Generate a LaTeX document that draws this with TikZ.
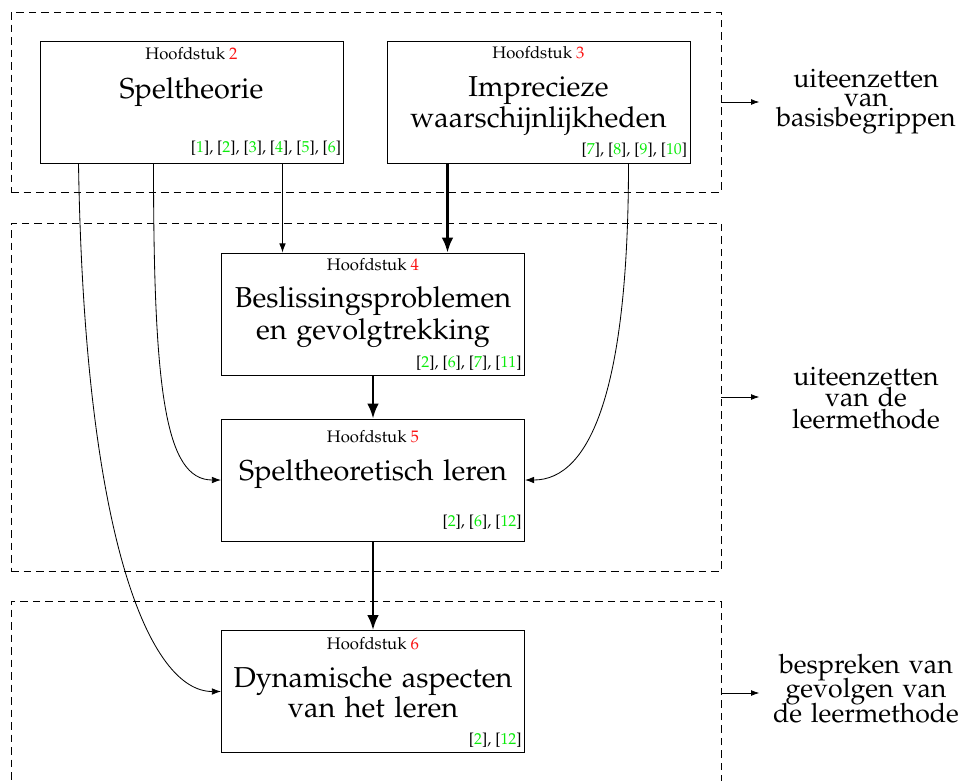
\documentclass[tikz,border=0pt]{standalone}
\usepackage[T1]{fontenc}
\renewcommand{\rmdefault}{ppl}
\usetikzlibrary{arrows.meta,calc}
\definecolor{citegreen}{RGB}{10,235,10}
\definecolor{chapred}{RGB}{250,20,20}
\newcommand{\gref}[1]{[\textcolor{citegreen}{#1}]}
\newcommand{\hfd}[1]{Hoofdstuk \textcolor{chapred}{#1}}
\begin{document}
\begin{tikzpicture}[x=0.6pt,y=-0.6pt,
  box/.style={draw, line width=0.6pt, minimum width=181.8pt, minimum height=73.2pt, inner sep=0pt},
  frame/.style={draw, dash pattern=on 4.5pt off 3pt, line width=0.5pt, minimum width=426pt, inner sep=0pt},
  hd/.style={anchor=base, inner sep=0pt, font=\fontsize{10}{12}\selectfont},
  ttl/.style={anchor=base, inner sep=0pt, text width=175pt, align=center},
  cite/.style={anchor=base east, inner sep=0pt, font=\fontsize{9.5}{11}\selectfont},
  lbl/.style={anchor=base, inner sep=0pt, text width=120pt, align=center},
  thinarr/.style={line width=0.5pt, -{Latex[length=5.5pt,width=4pt]}},
  thickarr/.style={line width=1.4pt, -{Latex[length=9pt,width=7pt]}},
  sidearr/.style={line width=0.5pt, -{Latex[length=5pt,width=3.5pt]}},
]
\useasboundingbox (0,0) rectangle (959,780);

% frames
\node[frame, minimum height=108pt] (F1) at (366,102) {};
\node[frame, minimum height=208.8pt] (F2) at (366,397) {};
\node[frame, minimum height=110.4pt] (F3) at (366,693) {};

% boxes
\node[box] (A) at (191.5,102) {};
\node[box] (B) at (538.5,102) {};
\node[box] (C) at (373,314) {};
\node[box] (D) at (373,480) {};
\node[box] (E) at (373,691.5) {};

% box A
\node[hd] (hA) at ($(A.north)+(0,19)$) {\hfd{2}};
\node[ttl, font={\fontsize{17.28}{19}\selectfont}] (tA) at ($(A.north)+(0,58)$) {Speltheorie};
\node[cite] (cA) at ($(A.north east)+(-2,112)$) {\gref{1}, \gref{2}, \gref{3}, \gref{4}, \gref{5}, \gref{6}};

% box B
\node[hd] (hB) at ($(B.north)+(0,18)$) {\hfd{3}};
\node[ttl, font={\fontsize{17.28}{18.6}\selectfont\lineskiplimit=-20pt}] (tB) at ($(B.north)+(0,56)$) {Imprecieze\\waarschijnlijkheden};
\node[cite] (cB) at ($(B.north east)+(-3,114)$) {\gref{7}, \gref{8}, \gref{9}, \gref{10}};

% box C
\node[hd] (hC) at ($(C.north)+(0,18)$) {\hfd{4}};
\node[ttl, font={\fontsize{17.28}{19.2}\selectfont\lineskiplimit=-20pt}] (tC) at ($(C.north)+(0,55)$) {Beslissingsproblemen\\en gevolgtrekking};
\node[cite] (cC) at ($(C.north east)+(-3,115)$) {\gref{2}, \gref{6}, \gref{7}, \gref{11}};

% box D
\node[hd] (hD) at ($(D.north)+(0,24)$) {\hfd{5}};
\node[ttl, font={\fontsize{17.28}{19}\selectfont}] (tD) at ($(D.north)+(0,62)$) {Speltheoretisch leren};
\node[cite] (cD) at ($(D.north east)+(-3,108)$) {\gref{2}, \gref{6}, \gref{12}};

% box E
\node[hd] (hE) at ($(E.north)+(0,19)$) {\hfd{6}};
\node[ttl, font={\fontsize{17.28}{18}\selectfont\lineskiplimit=-20pt}] (tE) at ($(E.north)+(0,57)$) {Dynamische aspecten\\van het leren};
\node[cite] (cE) at ($(E.north east)+(-3,114)$) {\gref{2}, \gref{12}};

% right labels
\node[lbl, font={\fontsize{16}{11.7}\selectfont\lineskiplimit=-20pt}] (L1) at (866,87) {uiteenzetten\\van\\basisbegrippen};
\node[lbl, font={\fontsize{16}{12.9}\selectfont\lineskiplimit=-20pt}] (L2) at (866,385) {uiteenzetten\\van de\\leermethode};
\node[lbl, font={\fontsize{16}{14.7}\selectfont\lineskiplimit=-20pt}] (L3) at (866,673) {bespreken van\\gevolgen van\\de leermethode};

\draw[sidearr] (F1.east) -- ++(38,0);
\draw[sidearr] (F2.east) -- ++(38,0);
\draw[sidearr] (F3.east) -- ++(38,0);

% connectors
\coordinate (a2c) at ($(A.south west)+(243,0)$);
\coordinate (b2c) at ($(B.south west)+(61,0)$);
\coordinate (a2d) at ($(A.south west)+(114,0)$);
\coordinate (a2e) at ($(A.south west)+(39,0)$);
\coordinate (b2d) at ($(B.south west)+(242,0)$);

\draw[thinarr] (a2c) -- (a2c |- C.north);
\draw[thickarr] (b2c) -- (b2c |- C.north);
\draw[thickarr] (C.south) -- (D.north);
\draw[thickarr] (D.south) -- (E.north);
\draw[thinarr] (a2d) .. controls ($(a2d)+(0,227)$) and ($(D.west)+(-56,0)$) .. (D.west);
\draw[thinarr] (a2e) .. controls ($(a2e)+(6,377)$) and ($(E.west)+(-71,0)$) .. (E.west);
\draw[thinarr] (b2d) .. controls ($(b2d)+(0,227)$) and ($(D.east)+(65,0)$) .. (D.east);
\end{tikzpicture}
\end{document}
